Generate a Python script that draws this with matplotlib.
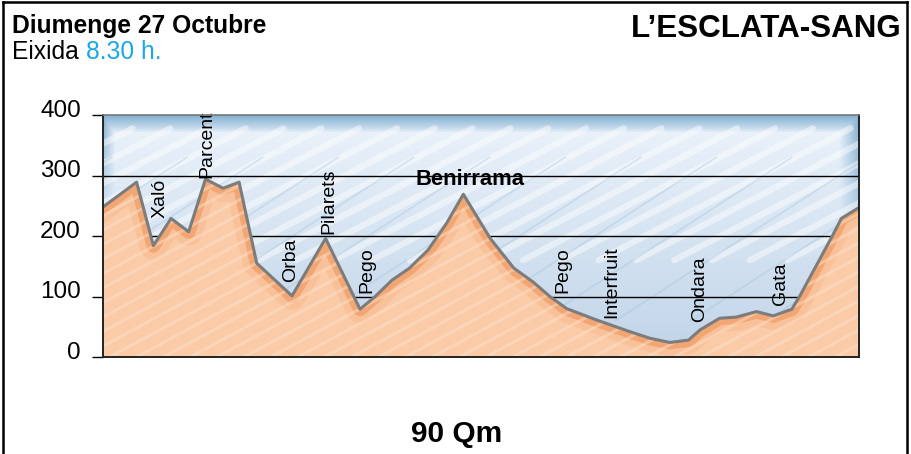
import numpy as np
import matplotlib
matplotlib.use("Agg")
import matplotlib.pyplot as plt
from matplotlib.patches import Polygon
from matplotlib.transforms import ScaledTranslation
from matplotlib.colors import to_rgb

plt.rcParams['font.family'] = ['Liberation Sans', 'DejaVu Sans']

# Route profile: distance (km) and altitude (m)
km = [0.0, 4.0, 6.0, 8.1, 10.2, 12.2, 14.3, 16.2, 18.3, 22.5, 26.5, 30.6, 32.4,
      34.4, 36.5, 38.7, 40.9, 42.9, 46.1, 48.9, 51.2, 53.2, 55.2, 58.8, 62.7,
      65.1, 67.5, 69.7, 71.1, 73.4, 75.4, 77.8, 79.8, 82.0, 83.0, 86.9, 87.9, 90.0]
alt = [248, 289, 184, 229, 207, 294, 279, 289, 155, 101, 196, 79, 100,
       127, 147, 177, 221, 269, 196, 147, 124, 100, 80, 61, 42,
       31, 24, 28, 45, 64, 66, 75, 68, 79, 102, 202, 229, 247]

# Place names along the route (vertical labels)
places = ["Xaló", "Parcent", "Orba", "Pilarets", "Pego", "Pego",
          "Interfruit", "Ondara", "Gata"]
place_km = [6.8, 12.4, 22.3, 26.9, 31.4, 54.8, 60.6, 71.0, 80.6]
place_alt = [230, 296, 124, 203, 106, 106, 64, 58, 86]

summit_name = "Benirrama"
summit_km, summit_alt = 43.7, 293

yticks = [0, 100, 200, 300, 400]
total_km = 90

W, H = 912, 454
fig = plt.figure(figsize=(W / 100, H / 100), dpi=100)
ax = fig.add_axes([103 / W, (H - 357) / H, 756 / W, 242 / H])
ax.set_xlim(0, total_km)
ax.set_ylim(0, 400)

# Sky: vertical gradient with darker blue rim along the top and right edge
ny, nx = 200, 400
yy, xx = np.mgrid[0:ny, 0:nx]
fy = yy / (ny - 1)            # 0 top .. 1 bottom
fx = xx / (nx - 1)
light_top = np.array(to_rgb("#ecf3fb"))
light_bot = np.array(to_rgb("#c0d4e8"))
dark = np.array(to_rgb("#86b2d3"))
base = light_top[None, None, :] * (1 - fy[..., None]) + light_bot[None, None, :] * fy[..., None]
w_top = np.clip(1 - fy / 0.07, 0, 1) ** 0.8
w_right = np.clip((fx - 0.975) / 0.025, 0, 1) * np.clip(1 - fy / 0.75, 0, 1)
w_left = np.clip(1 - fx / 0.015, 0, 1) * np.clip(1 - fy / 0.45, 0, 1)
w = np.maximum(np.maximum(w_top, w_right), w_left)[..., None]
sky = base * (1 - w) + dark[None, None, :] * w
ax.imshow(sky, extent=[0, total_km, 0, 400], aspect="auto", zorder=0,
          interpolation="bilinear")

# Brush-stroke texture in the sky
for x0 in np.arange(-40, 95, 4.5):
    ax.plot([x0, x0 + 30], [160, 378], color="white", lw=4.5, alpha=0.45,
            solid_capstyle="round", zorder=1)
for x0 in np.arange(-38, 95, 9):
    ax.plot([x0, x0 + 30], [60, 330], color="#9cc0de", lw=1.2, alpha=0.35,
            zorder=1)

# Horizontal reference lines
for yv in yticks[1:-1]:
    ax.axhline(yv, color="black", lw=1.0, zorder=2)

# Mountain silhouette
verts = [(0, 0)] + list(zip(km, alt)) + [(total_km, 0)]
mountain = Polygon(verts, closed=True, facecolor="#fbcba7", edgecolor="none", zorder=3)
ax.add_patch(mountain)

# Darker orange band just beneath the ridge line
band, = ax.plot(km, alt, color="#f2a673", lw=10, zorder=4, solid_joinstyle="round")
band.set_clip_path(mountain)
band2, = ax.plot(km, alt, color="#f6b88c", lw=20, zorder=3.5, alpha=0.5,
                 solid_joinstyle="round")
band2.set_clip_path(mountain)

# Light strokes on the slopes
for x0 in np.arange(-60, 95, 3.2):
    ln, = ax.plot([x0, x0 + 40], [0, 300], color="#fde3cf", lw=2.2, alpha=0.45,
                  solid_capstyle="round", zorder=4.5)
    ln.set_clip_path(mountain)

# Ridge outline
ax.plot(km, alt, color="#7c7c7c", lw=2.2, zorder=6, solid_joinstyle="round")

# Place labels
for name, xk, ya in zip(places, place_km, place_alt):
    ax.text(xk, ya, name, rotation=90, ha="center", va="bottom",
            fontsize=14, color="black", zorder=7)
ax.text(summit_km, summit_alt, summit_name, ha="center", va="center",
        fontsize=15.8, fontweight="bold", color="black", zorder=7)

# Axes styling
for side in ["left", "bottom", "right"]:
    ax.spines[side].set_color("#222222")
    ax.spines[side].set_linewidth(1.4)
ax.spines["top"].set_color("#777777")
ax.spines["top"].set_linewidth(1.2)
for sp in ax.spines.values():
    sp.set_zorder(8)
ax.set_xticks([])
ax.set_yticks(yticks)
ax.set_yticklabels([str(v) for v in yticks])
ax.tick_params(axis="y", length=8, width=1.0, color="black", pad=8,
               labelsize=17.5)
for lab in ax.get_yticklabels():
    lab.set_transform(lab.get_transform() + ScaledTranslation(0, 5 / 72, fig.dpi_scale_trans))

# Header and footer texts
def fy_(py):
    return 1 - py / H

fig.text(12 / W, fy_(33), "Diumenge 27 Octubre", fontsize=17.7, fontweight="bold",
         ha="left", va="baseline")
t = fig.text(12 / W, fy_(59), "Eixida ", fontsize=17.7, ha="left", va="baseline")
fig.canvas.draw()
bb = t.get_window_extent()
fig.text(bb.x1 / W, fy_(59), "8.30 h.", fontsize=17.7, color="#1aa7e6",
         ha="left", va="baseline")
fig.text(902 / W, fy_(37), "L\u2019ESCLATA-SANG", fontsize=22.6, fontweight="bold",
         ha="right", va="baseline")
fig.text(457 / W, fy_(442), "90 Qm", fontsize=21.5, fontweight="bold",
         ha="center", va="baseline")

# Outer frame
fig.add_artist(plt.Line2D([3 / W, 3 / W], [0, fy_(2)], color="black", lw=1.8))
fig.add_artist(plt.Line2D([907 / W, 907 / W], [0, fy_(2)], color="black", lw=1.8))
fig.add_artist(plt.Line2D([3 / W, 907 / W], [fy_(2), fy_(2)], color="black", lw=1.8))

fig.savefig("out.png", dpi=100)
